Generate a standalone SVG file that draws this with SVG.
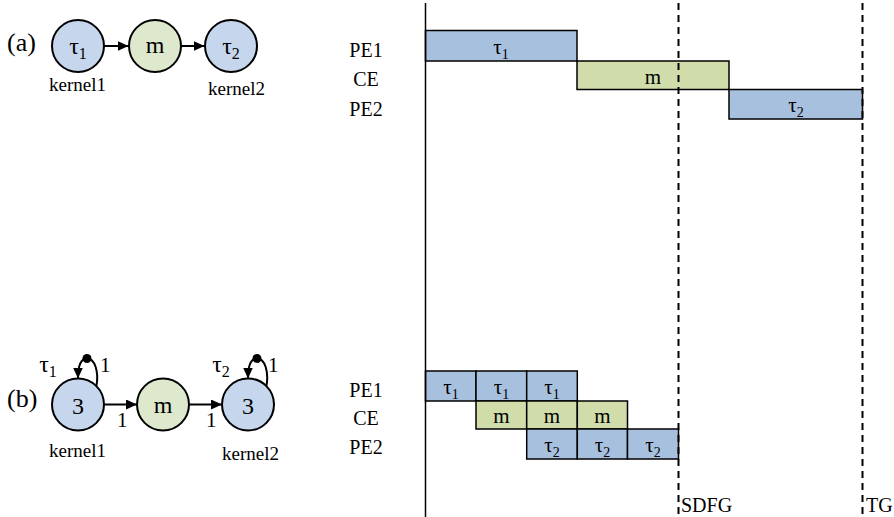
<svg xmlns="http://www.w3.org/2000/svg" width="894" height="517" viewBox="0 0 894 517">
<style>
text{font-family:"Liberation Serif",Tinos,"Times New Roman",Times,"DejaVu Serif","Noto Serif",serif;fill:#000}
.nb{fill:#c6d6ec;stroke:#000;stroke-width:2}
.ng{fill:#dee8cc;stroke:#000;stroke-width:2}
.bb{fill:#a6c0de;stroke:#000;stroke-width:1.5}
.bg{fill:#d0dcaa;stroke:#000;stroke-width:1.5}
.nt{font-size:24px;text-anchor:middle}
.gt{font-size:21px;text-anchor:middle}
.lab{font-size:20px;text-anchor:middle}
.labs{font-size:20px;text-anchor:start}
.kn{font-size:19px}
.pl{font-size:26px}
.sm{font-size:21px}
.edge{stroke:#000;stroke-width:2;fill:none}
.dash{stroke:#000;stroke-width:2;stroke-dasharray:7,5;fill:none}
</style>
<defs>
<marker id="ah" markerWidth="12" markerHeight="10" refX="11" refY="5" orient="auto" markerUnits="userSpaceOnUse">
<path d="M0,0 L11,5 L0,10 z" fill="#000"/>
</marker>
</defs>
<rect width="894" height="517" fill="#fff"/>

<text class="pl" x="7" y="51">(a)</text>
<text class="pl" x="7" y="407">(b)</text>

<g id="a-tau1">
<circle class="nb" cx="78" cy="46" r="26"/>
<text class="nt" x="78" y="54">τ<tspan font-size="16" dy="5">1</tspan></text>
<text class="kn" x="49" y="91">kernel1</text>
</g>
<g id="a-m">
<circle class="ng" cx="155" cy="46" r="26"/>
<text class="nt" x="155" y="53">m</text>
</g>
<g id="a-tau2">
<circle class="nb" cx="231" cy="46" r="26"/>
<text class="nt" x="231" y="54">τ<tspan font-size="16" dy="5">2</tspan></text>
<text class="kn" x="208" y="95">kernel2</text>
</g>

<g id="b-k1">
<circle class="nb" cx="78" cy="404.5" r="26"/>
<text class="nt" x="78" y="414">3</text>
<text class="kn" x="49" y="457">kernel1</text>
<text class="nt" x="48" y="372">τ<tspan font-size="16" dy="5">1</tspan></text>
<circle cx="87" cy="358.5" r="4.5" fill="#000"/>
<text class="sm" x="100" y="372">1</text>
</g>
<g id="b-m">
<circle class="ng" cx="163" cy="404.5" r="26"/>
<text class="nt" x="163" y="413">m</text>
</g>
<g id="b-k2">
<circle class="nb" cx="248" cy="404.5" r="26"/>
<text class="nt" x="248" y="414">3</text>
<text class="kn" x="222" y="460">kernel2</text>
<text class="nt" x="221" y="372">τ<tspan font-size="16" dy="5">2</tspan></text>
<circle cx="257" cy="358.5" r="4.5" fill="#000"/>
<text class="sm" x="268" y="372">1</text>
</g>

<g id="connectors">
<line class="edge" x1="104" y1="46" x2="128.5" y2="46" marker-end="url(#ah)"/>
<line class="edge" x1="181" y1="46" x2="204.5" y2="46" marker-end="url(#ah)"/>
<line class="edge" x1="104" y1="404.5" x2="137" y2="404.5" marker-end="url(#ah)"/>
<line class="edge" x1="189" y1="404.5" x2="222" y2="404.5" marker-end="url(#ah)"/>
<path class="edge" d="M96.4,386 C99,372 95,358.5 87,358.5 C81,358.5 78,366 78,378.5" marker-end="url(#ah)"/>
<path class="edge" d="M266.4,386 C269,372 265,358.5 257,358.5 C251,358.5 248,366 248,378.5" marker-end="url(#ah)"/>
<text class="sm" x="117" y="427">1</text>
<text class="sm" x="206" y="427">1</text>
</g>

<g id="gantt-labels">
<text class="lab" x="366" y="57">PE1</text>
<text class="lab" x="366" y="86">CE</text>
<text class="lab" x="366" y="115.5">PE2</text>
<text class="lab" x="366" y="397">PE1</text>
<text class="lab" x="366" y="425">CE</text>
<text class="lab" x="366" y="454">PE2</text>
</g>

<g id="top-pe1">
<rect class="bb" x="425.5" y="30.5" width="151.5" height="30.5"/>
<text class="gt" x="501" y="54">τ<tspan font-size="14" dy="5">1</tspan></text>
</g>
<g id="top-ce">
<rect class="bg" x="577" y="61" width="152" height="28.5"/>
<text class="gt" x="653" y="84">m</text>
</g>
<g id="top-pe2">
<rect class="bb" x="729" y="89.5" width="133.5" height="29.5"/>
<text class="gt" x="796" y="112">τ<tspan font-size="14" dy="5">2</tspan></text>
</g>

<g id="bot-pe1">
<rect class="bb" x="425.5" y="371" width="50.5" height="30"/>
<rect class="bb" x="476" y="371" width="50.7" height="30"/>
<rect class="bb" x="526.7" y="371" width="50.6" height="30"/>
<text class="gt" x="451" y="394">τ<tspan font-size="14" dy="5">1</tspan></text>
<text class="gt" x="501.5" y="394">τ<tspan font-size="14" dy="5">1</tspan></text>
<text class="gt" x="552" y="394">τ<tspan font-size="14" dy="5">1</tspan></text>
</g>
<g id="bot-ce">
<rect class="bg" x="476" y="401" width="50.7" height="28"/>
<rect class="bg" x="526.7" y="401" width="50.6" height="28"/>
<rect class="bg" x="577.3" y="401" width="50.2" height="28"/>
<text class="gt" x="501.5" y="423">m</text>
<text class="gt" x="552" y="423">m</text>
<text class="gt" x="602.5" y="423">m</text>
</g>
<g id="bot-pe2">
<rect class="bb" x="526.7" y="429" width="50.6" height="30"/>
<rect class="bb" x="577.3" y="429" width="50.2" height="30"/>
<rect class="bb" x="627.5" y="429" width="51" height="30"/>
<text class="gt" x="552" y="452">τ<tspan font-size="14" dy="5">2</tspan></text>
<text class="gt" x="602.5" y="452">τ<tspan font-size="14" dy="5">2</tspan></text>
<text class="gt" x="653" y="452">τ<tspan font-size="14" dy="5">2</tspan></text>
</g>

<g id="axes">
<line x1="425.5" y1="3" x2="425.5" y2="517" stroke="#000" stroke-width="1.5"/>
<line class="dash" x1="678.5" y1="3" x2="678.5" y2="517"/>
<line class="dash" x1="862.5" y1="3" x2="862.5" y2="517"/>
<text class="labs" x="681" y="512">SDFG</text>
<text class="labs" x="866" y="512">TG</text>
</g>
</svg>
